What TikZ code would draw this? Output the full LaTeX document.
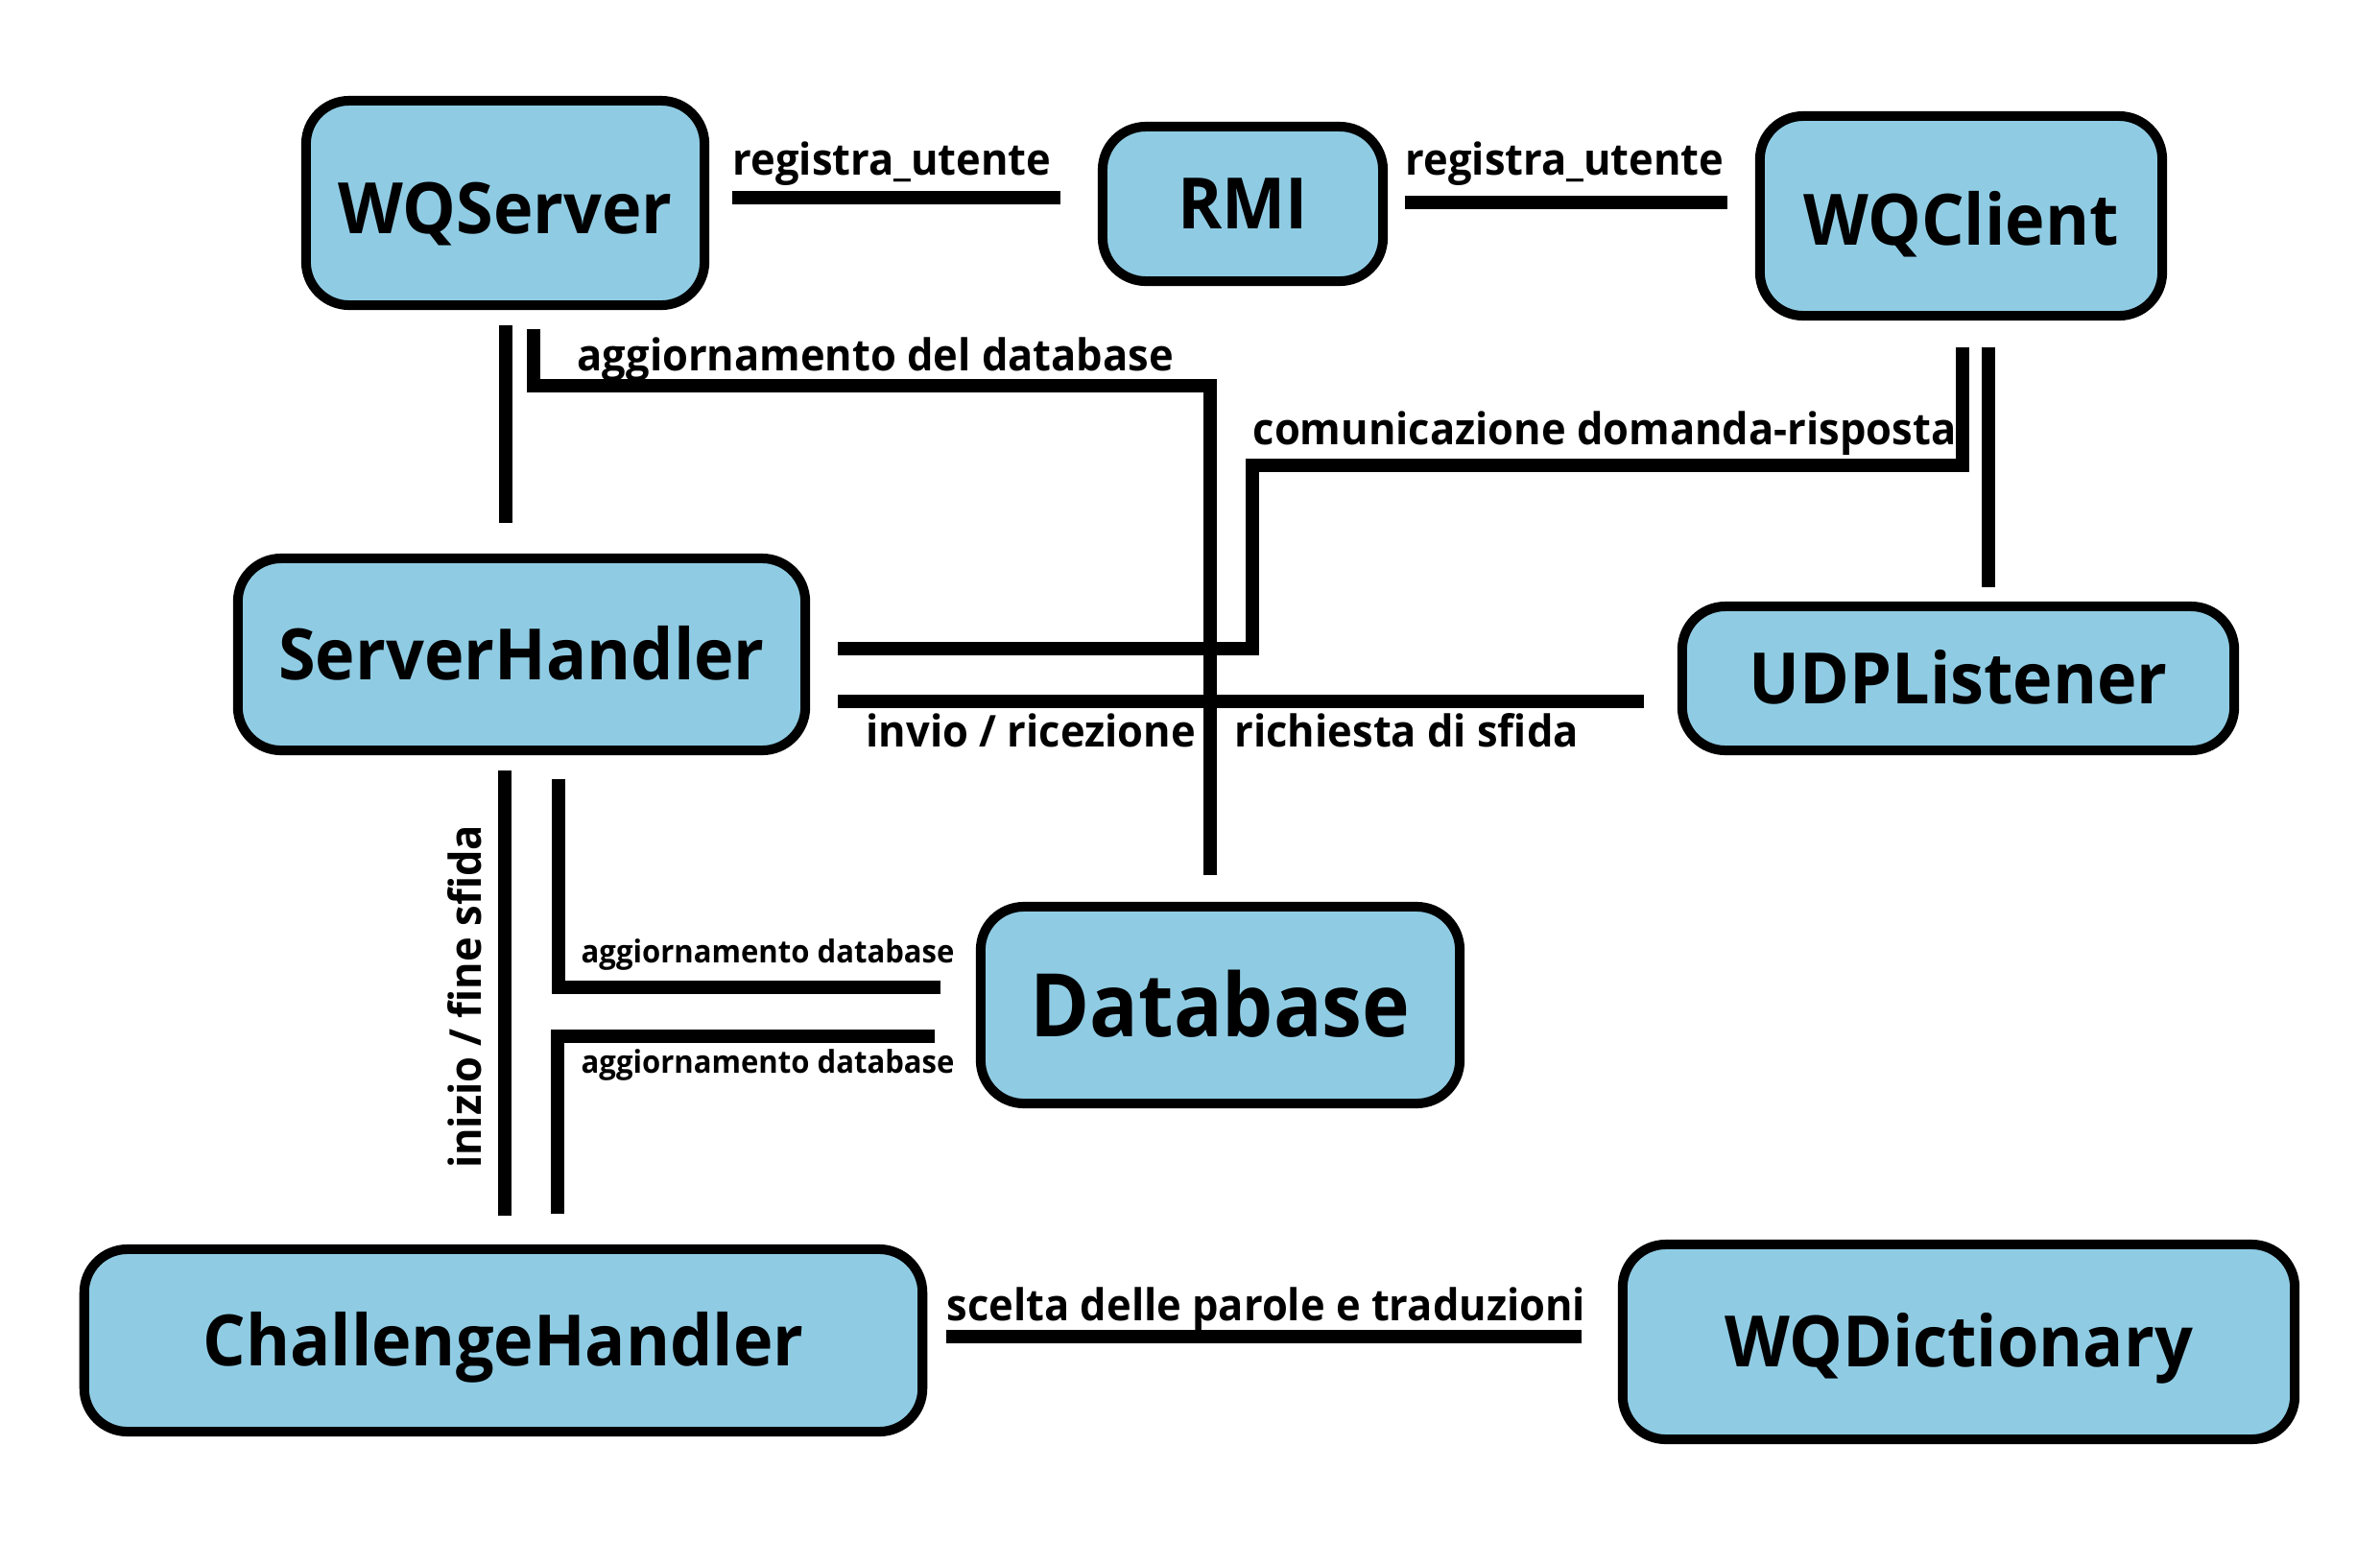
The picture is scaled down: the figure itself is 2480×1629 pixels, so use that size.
\documentclass[tikz,border=0pt]{standalone}
\usepackage{fontspec}
\setmainfont{Open Sans}[FakeStretch=0.95]
\newfontfamily\dbfont{Open Sans}[FakeStretch=0.92]
\definecolor{boxblue}{RGB}{143,204,228}
\begin{document}
\begin{tikzpicture}[x=0.01cm,y=-0.01cm,
  box/.style={draw=black,line width=2.85pt,fill=boxblue,rounded corners=4.5mm,inner sep=0pt,
    font=\bfseries\fontsize{21}{25}\selectfont,text height=15pt,text depth=0pt},
  lowtext/.style={text height=#1},
  bigbox/.style={box,font=\dbfont\bfseries\fontsize{26}{30}\selectfont,text height=18.6pt},
  conn/.style={line width=4.1pt,line join=miter,line cap=butt},
  lab/.style={inner sep=0pt,anchor=base west,font=\bfseries\fontsize{13}{15}\selectfont},
  slab/.style={lab,font=\bfseries\fontsize{9.3}{11}\selectfont}]
\fill[white] (0,0) rectangle (2480,1629);
\useasboundingbox (0,0) rectangle (2480,1629);
% boxes
\node[box,lowtext=18.4pt,minimum width=4.15cm,minimum height=2.13cm] (wqs) at (526.5,211.5) {WQServer};
\node[box,minimum width=2.92cm,minimum height=1.61cm] (rmi) at (1295,212.5) {RMI};
\node[box,lowtext=17.6pt,minimum width=4.19cm,minimum height=2.08cm] (wqc) at (2043.5,225) {WQClient};
\node[box,minimum width=5.91cm,minimum height=2.00cm] (sh) at (543.5,682) {ServerHandler};
\node[box,minimum width=5.75cm,minimum height=1.50cm] (udp) at (2040.5,707) {UDPListener};
\node[bigbox,minimum width=4.99cm,minimum height=2.05cm] (db) at (1271.5,1047.5) {Database};
\node[box,minimum width=8.73cm,minimum height=1.90cm] (ch) at (524.5,1397) {ChallengeHandler};
\node[box,minimum width=7.00cm,minimum height=2.03cm] (dict) at (2041,1398.5) {WQDictionary};
% connector end points
\coordinate (p1a) at (763,206);   \coordinate (p1b) at (1105,206);
\coordinate (p2a) at (1464,211);  \coordinate (p2b) at (1800,211);
\coordinate (p3a) at (527,339);   \coordinate (p3b) at (527,545);
\coordinate (p4a) at (556,343);   \coordinate (p4b) at (1261,912);
\coordinate (p5a) at (873,676);   \coordinate (p5b) at (2045,362);
\coordinate (p6a) at (2072,362);  \coordinate (p6b) at (2072,612);
\coordinate (p7a) at (873,731);   \coordinate (p7b) at (1713,731);
\coordinate (p8a) at (526,803);   \coordinate (p8b) at (526,1267);
\coordinate (p9a) at (582,812);   \coordinate (p9b) at (980,1029);
\coordinate (p10a) at (974,1080); \coordinate (p10b) at (581,1265);
\coordinate (p11a) at (986,1393); \coordinate (p11b) at (1648,1393);
% connectors
\draw[conn] (p1a) -- (p1b);
\draw[conn] (p2a) -- (p2b);
\draw[conn] (p3a) -- (p3b);
\draw[conn] (p4a) |- (1261,402) -- (p4b);
\draw[conn] (p5a) -- (1305,676) -- (1305,485) -| (p5b);
\draw[conn] (p6a) -- (p6b);
\draw[conn] (p7a) -- (p7b);
\draw[conn] (p8a) -- (p8b);
\draw[conn] (p9a) |- (p9b);
\draw[conn] (p10a) -| (p10b);
\draw[conn] (p11a) -- (p11b);
% labels
\node[lab] (l1) at (763,182) {registra\_utente};
\node[lab] (l2) at (1464,182) {registra\_utente};
\node[lab] (l4) at (601,386) {aggiornamento del database};
\node[lab] (l5) at (1305,463) {comunicazione domanda-risposta};
\node[lab] (l7a) at (902,778) {invio / ricezione};
\node[lab] (l7b) at (1286,778) {richiesta di sfida};
\node[lab,anchor=base,rotate=90] (l8) at (501,1039) {inizio / fine sfida};
\node[slab] (l9) at (605,1003) {aggiornamento database};
\node[slab] (l10) at (605,1118) {aggiornamento database};
\node[lab] (l11) at (986,1376) {scelta delle parole e traduzioni};
\end{tikzpicture}
\end{document}
